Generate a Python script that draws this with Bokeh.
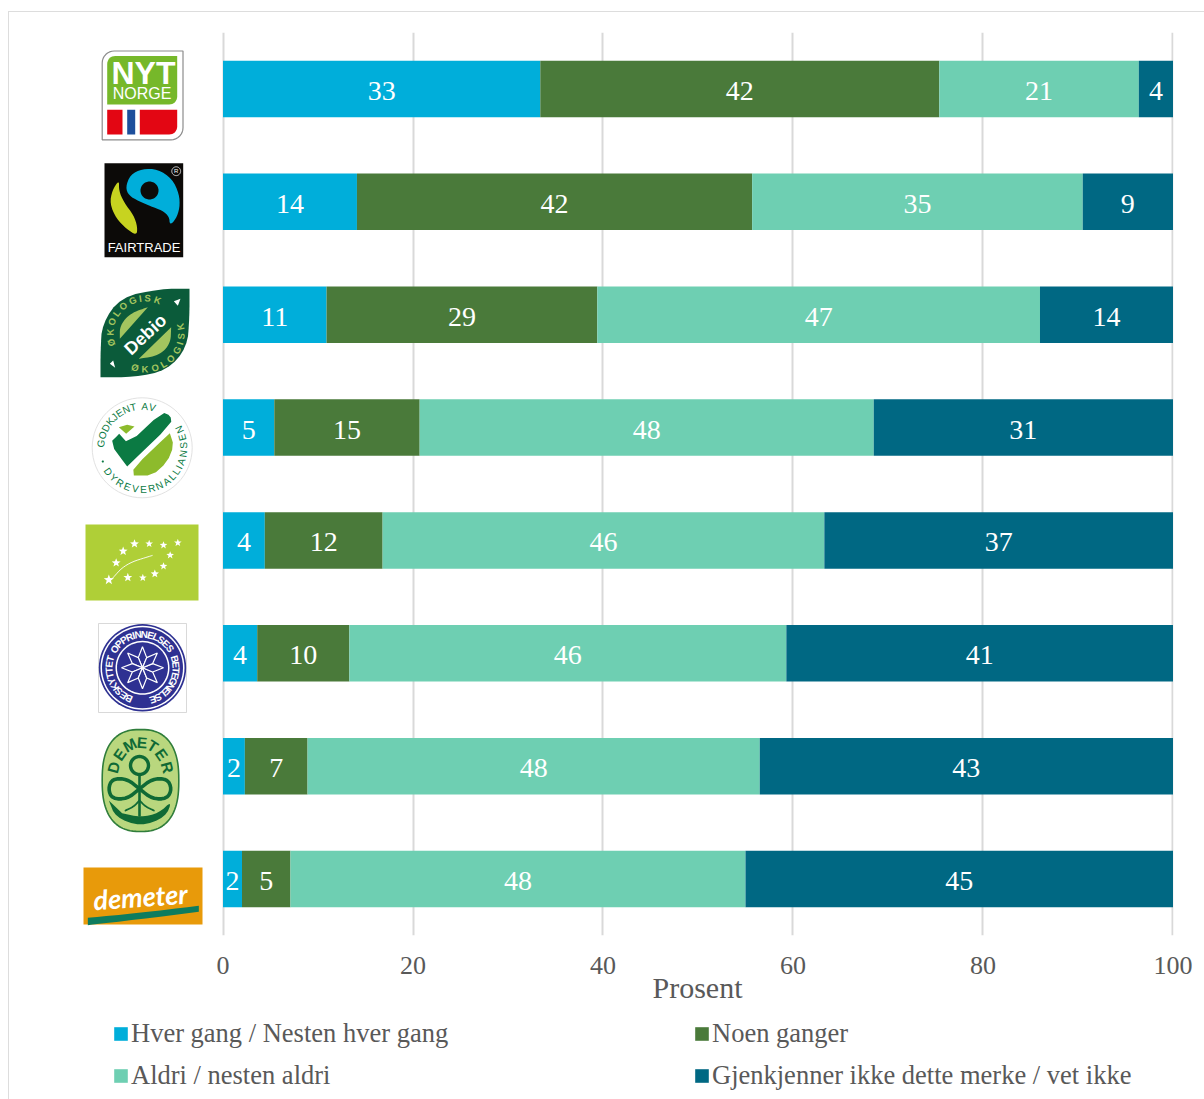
import math
from bokeh.embed import file_html
from bokeh.resources import INLINE
from bokeh.plotting import figure
from bokeh.layouts import column, row
from bokeh.models import (ColumnDataSource, FactorRange, FixedTicker, Legend, LegendItem, Range1d, Spacer)
from bokeh.core.properties import value

# ---------- data ----------
brands = ["Nyt Norge", "Fairtrade", "Debio", "Dyrevernalliansen", "EU-økologisk",
          "Beskyttet opprinnelsesbetegnelse", "Demeter (gammel)", "Demeter"]
hver_gang = [33.4, 14.1, 10.9, 5.4, 4.4, 3.6, 2.3, 2.0]
noen_ganger = [42.0, 41.6, 28.5, 15.3, 12.4, 9.7, 6.6, 5.1]
aldri = [21.0, 34.8, 46.6, 47.8, 46.5, 46.0, 47.6, 47.9]
gjenkjenner_ikke = [3.6, 9.5, 14.0, 31.5, 36.7, 40.7, 43.5, 45.0]

lbl_hver_gang = ["33", "14", "11", "5", "4", "4", "2", "2"]
lbl_noen_ganger = ["42", "42", "29", "15", "12", "10", "7", "5"]
lbl_aldri = ["21", "35", "47", "48", "46", "46", "48", "48"]
lbl_gjenkjenner_ikke = ["4", "9", "14", "31", "37", "41", "43", "45"]

series_keys = ["hver", "noen", "aldri", "ikke"]
series_names = ["Hver gang / Nesten hver gang", "Noen ganger", "Aldri / nesten aldri",
                "Gjenkjenner ikke dette merke / vet ikke"]
series_colors = ["#00AEDA", "#4A7A3A", "#6ECFB2", "#006883"]
x_ticks = [0, 20, 40, 60, 80, 100]
x_title = "Prosent"

SERIF = "Liberation Serif"
SANS = "Liberation Sans"
GREY = "#595959"
FRAME_GREY = "#DDDDDD"

TOP_H = 12        # strip holding the outer frame's top line
LEFT_W = 9        # strip holding the outer frame's left line
MID_BOTTOM = 1010
LOGO_RIGHT = 214
FRAME_TOP, FRAME_BOTTOM = 32, 935

# ---------- main chart ----------
source = ColumnDataSource(dict(brand=brands, hver=hver_gang, noen=noen_ganger,
                               aldri=aldri, ikke=gjenkjenner_ikke))
p = figure(width=1204 - LOGO_RIGHT, height=MID_BOTTOM - TOP_H,
           y_range=FactorRange(*reversed(brands), range_padding=0), x_range=(-0.158, 100.053),
           frame_width=952, frame_height=FRAME_BOTTOM - FRAME_TOP, min_border_left=7, min_border_right=31,
           min_border_top=FRAME_TOP - TOP_H, min_border_bottom=MID_BOTTOM - FRAME_BOTTOM, output_backend="svg",
           toolbar_location=None, background_fill_color="white")
p.outline_line_color = None
p.ygrid.visible = False
p.xgrid.ticker = FixedTicker(ticks=x_ticks)
p.xgrid.grid_line_color = "#D9D9D9"
p.xgrid.grid_line_width = 2
p.yaxis.visible = False
ax = p.xaxis[0]
ax.ticker = FixedTicker(ticks=x_ticks)
ax.axis_line_color = None
ax.major_tick_line_color = None
ax.minor_tick_line_color = None
ax.major_label_text_font = SERIF
ax.major_label_text_font_size = "26px"
ax.major_label_text_color = GREY
ax.major_label_standoff = 15
ax.axis_label = x_title
ax.axis_label_text_font = SERIF
ax.axis_label_text_font_size = "30px"
ax.axis_label_text_font_style = "normal"
ax.axis_label_text_color = GREY
ax.axis_label_standoff = -6

p.hbar_stack(series_keys, y="brand", height=0.5, color=series_colors, source=source, line_color=None)

all_vals = [hver_gang, noen_ganger, aldri, gjenkjenner_ikke]
all_lbls = [lbl_hver_gang, lbl_noen_ganger, lbl_aldri, lbl_gjenkjenner_ikke]
lx, ly, lt = [], [], []
for i, br in enumerate(brands):
    left = 0.0
    for vals, lbls in zip(all_vals, all_lbls):
        lx.append(left + vals[i] / 2)
        ly.append(br)
        lt.append(lbls[i])
        left += vals[i]
p.text(x=lx, y=ly, text=lt, text_color="white", text_font=value(SERIF), text_font_size="28px",
       text_align="center", text_baseline="middle", y_offset=2)

# ---------- logo column, in page pixels ----------
f = figure(width=LOGO_RIGHT - LEFT_W, height=MID_BOTTOM - TOP_H, x_range=Range1d(LEFT_W, LOGO_RIGHT),
           y_range=Range1d(FRAME_BOTTOM, FRAME_TOP), x_axis_type=None, y_axis_type=None,
           frame_width=LOGO_RIGHT - LEFT_W, frame_height=FRAME_BOTTOM - FRAME_TOP,
           min_border_left=0, min_border_right=0, min_border_top=FRAME_TOP - TOP_H,
           min_border_bottom=MID_BOTTOM - FRAME_BOTTOM, output_backend="svg", toolbar_location=None)
f.outline_line_color = None
f.grid.visible = False

def poly(pts, fill=None, line=None, lw=0):
    f.patch([a for a, _ in pts], [b for _, b in pts],
            fill_color=fill if fill else "white", fill_alpha=1 if fill else 0,
            line_color=line, line_width=lw, line_alpha=1 if line else 0)

def stroke(pts, color, lw):
    f.line([a for a, _ in pts], [b for _, b in pts], line_color=color, line_width=lw, line_cap="round")

def text(x, y, s, size, color, angle=0, style="normal", font=SANS):
    f.text(x=[x], y=[y], text=[s], text_font=value(font), text_font_size=f"{size}px",
           text_color=color, text_align="center", text_baseline="middle", angle=angle,
           angle_units="rad", text_font_style=style)

def z(points, ox, oy):
    return [(ox + a / 3, oy + b / 3) for a, b in points]

def smooth(pts, n=3):
    for _ in range(n):
        out = []
        for i in range(len(pts)):
            a, b = pts[i], pts[(i + 1) % len(pts)]
            out.append((0.75 * a[0] + 0.25 * b[0], 0.75 * a[1] + 0.25 * b[1]))
            out.append((0.25 * a[0] + 0.75 * b[0], 0.25 * a[1] + 0.75 * b[1]))
        pts = out
    return pts

def smooth_open(pts, n=3):
    for _ in range(n):
        out = [pts[0]]
        for a, b in zip(pts[:-1], pts[1:]):
            out.append((0.75 * a[0] + 0.25 * b[0], 0.75 * a[1] + 0.25 * b[1]))
            out.append((0.25 * a[0] + 0.75 * b[0], 0.25 * a[1] + 0.75 * b[1]))
        out.append(pts[-1])
        pts = out
    return pts

def ellipse(cx, cy, rx, ry=None, n=64, e=2.0):
    ry = rx if ry is None else ry
    out = []
    for k in range(n):
        t = 2 * math.pi * k / n
        c, s = math.cos(t), math.sin(t)
        out.append((cx + rx * math.copysign(abs(c) ** (2 / e), c),
                    cy + ry * math.copysign(abs(s) ** (2 / e), s)))
    return out

def star(cx, cy, r, n=5, inner=0.42, rot=90.0):
    out = []
    for k in range(2 * n):
        t = math.radians(rot + 180 * k / n)
        rr = r if k % 2 == 0 else r * inner
        out.append((cx + rr * math.cos(t), cy - rr * math.sin(t)))
    return out

CHAR_W = {"I": 0.45, "J": 0.65, "L": 0.8, " ": 0.55, "M": 1.2, "Ø": 1.1, "O": 1.1, "G": 1.1, "T": 0.9}

def curved(cx, cy, rx, ry, s, a0, a1, size, color, style="bold", font=SANS):
    cw = a1 < a0
    w = [CHAR_W.get(ch, 1.0) for ch in s]
    span = sum(w) - w[0] / 2 - w[-1] / 2
    pos = 0.0
    for k, ch in enumerate(s):
        if k:
            pos += (w[k - 1] + w[k]) / 2
        t = math.radians(a0 + (a1 - a0) * pos / span)
        x = cx + rx * math.cos(t)
        y = cy - ry * math.sin(t)
        normal = math.atan2(math.sin(t) / ry, math.cos(t) / rx)
        rot = normal - math.pi / 2 if cw else normal + math.pi / 2
        if ch != " ":
            text(x, y, ch, size, color, angle=rot, style=style, font=font)

def rrect(x0, y0, x1, y1, tl=0, tr=0, br=0, bl=0):
    out = []
    def corner(cx, cy, r, a0):
        if r == 0:
            out.append((cx, cy))
            return
        for k in range(9):
            t = math.radians(a0 - 90 * k / 8)
            out.append((cx + r * math.cos(t), cy - r * math.sin(t)))
    corner(x0 + tl if tl else x0, y0 + tl if tl else y0, tl, 180)
    corner(x1 - tr if tr else x1, y0 + tr if tr else y0, tr, 90)
    corner(x1 - br if br else x1, y1 - br if br else y1, br, 0)
    corner(x0 + bl if bl else x0, y1 - bl if bl else y1, bl, -90)
    return out

# Nyt Norge
poly(rrect(101.7, 50.5, 182.5, 139.3, tl=12, br=12), fill="white", line="#8C8C8C", lw=1.2)
poly(rrect(106.7, 55.5, 176.7, 104, tl=8, br=8), fill="#76B82A")
poly(rrect(106.7, 109.3, 122, 134), fill="#E30613")
poly(rrect(126.7, 109.3, 134.7, 134), fill="#1D4F9C")
poly(rrect(139.3, 109.3, 176.7, 134, br=8), fill="#E30613")
text(143, 72.5, "NYT", 32, "white", style="bold")
text(141.5, 93, "NORGE", 16, "white")

# Fairtrade
poly(rrect(104, 162.7, 182.7, 256.7), fill="#0C0A08")
poly(smooth(z([(165, 470), (180, 432), (215, 415), (262, 416), (305, 445), (326, 490), (328, 532),
               (316, 566), (298, 584), (296, 558), (275, 540), (240, 527), (205, 512), (175, 495)],
              70, 30), 2), fill="#00AEDA")
poly(ellipse(149, 190, 9), fill="#0C0A08")
poly(smooth(z([(146, 448), (125, 480), (118, 520), (138, 565), (168, 595), (198, 615), (201, 590),
               (190, 555), (160, 515), (145, 480)], 70, 30), 2), fill="#C7D320")
text(143.5, 246.5, "FAIRTRADE", 13, "white")
poly(ellipse(175.7, 170.7, 4.4), line="white", lw=0.8)
text(175.7, 170.8, "R", 6, "white")

# Debio
poly(smooth(z([(357, 775), (357, 775), (357, 775), (270, 775), (150, 800), (95, 880), (90, 960), (90, 1040),
               (90, 1040), (90, 1040), (190, 1040), (290, 1020), (350, 950), (357, 860)], 70, 30), 2),
     fill="#0B5B3A")
poly(smooth_open(z([(148, 925), (148, 885), (180, 848), (232, 830)], 70, 30)), fill="#A3C55F")
poly(smooth_open(z([(302, 890), (300, 940), (265, 975), (205, 985)], 70, 30)), fill="#A3C55F")
text(145, 334, "Debio", 18, "white", angle=math.radians(43), style="bold")
curved(145, 333, 35.5, 35.5, "ØKOLOGISK", 195, 70, 9.5, "#A3C55F")
curved(145, 333, 35.5, 35.5, "ØKOLOGISK", -107, 11, 9.5, "#A3C55F")
poly(z([(310, 812), (330, 805), (322, 826)], 70, 30), fill="white")
poly(z([(118, 1000), (128, 990), (134, 1012)], 70, 30), fill="white")

# Dyrevernalliansen
poly(ellipse(141.7, 447.3, 50), fill="white", line="#E2E2E2", lw=1)
poly(smooth(z([(118, 158), (146, 130), (146, 130), (173, 160), (275, 65), (300, 75), (303, 100), (170, 228),
               (170, 228)], 70, 390), 1), fill="#0B7A43")
poly(z([(145, 110), (170, 103), (192, 108), (167, 130)], 70, 390), fill="#8DBB2C")
poly(smooth(z([(188, 232), (298, 128), (298, 128), (310, 165), (290, 215), (245, 255), (190, 255), (190, 255)],
              70, 390), 1), fill="#8DBB2C")
curved(141.7, 447.3, 41.5, 41.5, "GODKJENT AV", 174, 76, 10, "#0B7A43", style="normal")
curved(141.7, 447.3, 41.5, 41.5, "DYREVERNALLIANSEN", -145, 26, 10, "#0B7A43", style="normal")
poly(ellipse(102.3, 461, 1.1, n=12), fill="#0B7A43")

# EU leaf
poly(rrect(85, 524, 198, 600), fill="#AFCF37")
eu_stars = [(115, 568, 16), (137, 517, 14), (158, 482, 14), (192, 460, 14), (236, 460, 12), (279, 464, 12),
            (322, 457, 12), (299, 494, 12), (279, 527, 12), (253, 550, 13), (217, 562, 12), (172, 561, 14)]
for sx_, sy_, r_ in eu_stars:
    poly(star(70 + sx_ / 3, 390 + sy_ / 3, r_ / 3), fill="white")
stroke(smooth_open(z([(120, 570), (165, 520), (245, 495)], 70, 390)), "white", 0.9)

# Beskyttet opprinnelsesbetegnelse
poly(rrect(98, 623, 186, 712), fill="white", line="#CFCFCF", lw=0.8)
poly(ellipse(142, 667.3, 43.7), fill="#2E3192")
poly(ellipse(142, 667.3, 42), fill="white")
poly(ellipse(142, 667.3, 40.5), fill="#2E3192")
poly(ellipse(142, 667.3, 27), fill="white")
poly(ellipse(142, 667.3, 25.5), fill="#2E3192")
for k in range(8):
    t = math.radians(90 + 45 * k)
    d = math.radians(22.5)
    poly([(142, 667.3),
          (142 + 11 * math.cos(t - d), 667.3 - 11 * math.sin(t - d)),
          (142 + 21 * math.cos(t), 667.3 - 21 * math.sin(t)),
          (142 + 11 * math.cos(t + d), 667.3 - 11 * math.sin(t + d))],
         fill="#2E3192", line="white", lw=1.2)
curved(142, 667.3, 33.5, 33.5, "OPPRINNELSES", 146, 35, 10, "white")
curved(142, 667.3, 33.5, 33.5, "BETEGNELSE", 15, -72, 10, "white")
curved(142, 667.3, 33.5, 33.5, "BESKYTTET", 246, 164, 10, "white")

# Demeter oval
DG = "#0F6A35"
poly(ellipse(140, 780, 38.3, 51, n=96, e=2.5), fill="#B9D77E", line="#2F7D3B", lw=1.6)
curved(140, 780, 28.5, 38, "DEMETER", 160, 20, 15.5, DG)
poly(ellipse(139, 765, 9, n=36), line=DG, lw=3.4)
stroke(z([(207, 165), (207, 285)], 70, 720), DG, 2.6)
poly(smooth(z([(207, 205), (170, 175), (125, 175), (113, 205), (125, 235), (170, 235),
               (207, 205), (245, 175), (290, 175), (304, 205), (290, 235), (245, 235)], 70, 720), 2),
     line=DG, lw=3.6)
stroke(smooth_open(z([(207, 240), (190, 258), (165, 270)], 70, 720)), DG, 1.8)
stroke(smooth_open(z([(207, 240), (225, 258), (250, 270)], 70, 720)), DG, 1.8)
poly(smooth_open(z([(115, 240), (135, 290), (210, 318), (285, 290), (305, 240),
                    (265, 278), (210, 290), (155, 278)], 70, 720), 2), fill=DG)

# Demeter
poly(rrect(83, 867, 202, 924), fill="#E89A0A")
poly(smooth_open(z([(52, 592), (200, 578), (385, 556)], 70, 720), 2)
     + smooth_open(z([(385, 574), (200, 597), (52, 614)], 70, 720), 2), fill="#0E7C5E")
text(140, 896, "demeter", 27, "white", angle=math.radians(4), style="bold italic", font="Lato")

# ---------- legend strip ----------
b = figure(width=1204 - LEFT_W, height=1099 - MID_BOTTOM, x_range=Range1d(LEFT_W, 1204),
           y_range=Range1d(1099, MID_BOTTOM), x_axis_type=None, y_axis_type=None, min_border=0,
           output_backend="svg", toolbar_location=None)
b.outline_line_color = None
b.grid.visible = False
# one off-view cell per series, so each legend entry has a swatch to draw
swatches = [b.quad(left=[-20], right=[-10], top=[1020], bottom=[1030], fill_color=c, line_color=None)
            for c in series_colors]
for (a_, b_), xloc in (((0, 2), 112), ((1, 3), 693)):
    leg = Legend(items=[LegendItem(label=series_names[a_], renderers=[swatches[a_]]),
                        LegendItem(label=series_names[b_], renderers=[swatches[b_]])],
                 location=(xloc - LEFT_W, 8), orientation="vertical", padding=0, margin=0,
                 spacing=11, glyph_width=17, glyph_height=17, label_standoff=2,
                 label_text_font=SERIF, label_text_font_size="26.5px", label_text_color=GREY,
                 label_height=29, border_line_color=None, background_fill_alpha=0)
    b.add_layout(leg, "center")

top_line = Spacer(width=1196, height=1, margin=(11, 0, 0, 8), styles={"background-color": FRAME_GREY})
left_line = Spacer(width=1, height=1099 - TOP_H, margin=(0, 0, 0, 8), styles={"background-color": FRAME_GREY})
layout = column(top_line, row(left_line, column(row(f, p, spacing=0), b, spacing=0), spacing=0), spacing=0)
open("out.html", "w").write(file_html(layout, INLINE))
